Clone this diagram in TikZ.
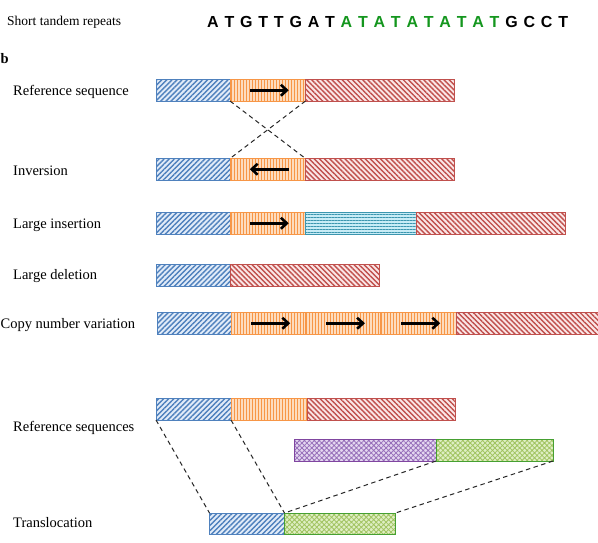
\documentclass[tikz,border=0pt]{standalone}
\usepackage{fontspec}
\setmainfont{Liberation Serif}
\newfontfamily\seqfont{Liberation Sans Bold}
\usetikzlibrary{patterns,patterns.meta,arrows.meta}
\definecolor{cblue}{RGB}{79,129,189}
\definecolor{cblueF}{RGB}{225,235,248}
\definecolor{corange}{RGB}{247,150,70}
\definecolor{corangeF}{RGB}{253,220,190}
\definecolor{cred}{RGB}{192,80,77}
\definecolor{credF}{RGB}{250,230,230}
\definecolor{ccyan}{RGB}{60,150,175}
\definecolor{ccyanF}{RGB}{200,236,246}
\definecolor{cpurple}{RGB}{128,70,160}
\definecolor{cpurpleP}{RGB}{150,110,185}
\definecolor{cpurpleF}{RGB}{228,215,240}
\definecolor{cgreen}{RGB}{70,160,50}
\definecolor{cgreenP}{RGB}{160,195,95}
\definecolor{cgreenF}{RGB}{222,238,195}
\definecolor{seqgreen}{RGB}{20,150,30}
\tikzset{
  seg/.style={draw, line width=0.9pt, inner sep=0pt, outer sep=0pt, anchor=north west, minimum height=21.5pt},
  bseg/.style={seg, draw=cblue, preaction={fill=cblueF}, pattern={Lines[angle=45,distance=3.6pt,line width=1.4pt]}, pattern color=cblue},
  oseg/.style={seg, draw=corange, preaction={fill=corangeF}, pattern={Lines[angle=90,distance=3pt,line width=0.8pt]}, pattern color=corange},
  rseg/.style={seg, draw=cred, preaction={fill=credF}, pattern={Lines[angle=-45,distance=3.6pt,line width=1.4pt]}, pattern color=cred},
  cseg/.style={seg, draw=ccyan, preaction={fill=ccyanF}, pattern={Lines[angle=0,distance=3pt,line width=1pt]}, pattern color=ccyan},
  pseg/.style={seg, draw=cpurple, preaction={fill=cpurpleF}, pattern={Hatch[angle=45,distance=3.5pt,line width=0.8pt]}, pattern color=cpurpleP},
  gseg/.style={seg, draw=cgreen, preaction={fill=cgreenF}, pattern={Hatch[angle=45,distance=3.5pt,line width=0.8pt]}, pattern color=cgreenP},
  lbl/.style={anchor=west, inner sep=0pt, font=\fontsize{14.5}{16}\selectfont},
  arr/.style={line width=2.6pt, -{Straight Barb[length=6pt,width=11pt]}},
  dsh/.style={line width=1pt, dash pattern=on 4.5pt off 3.5pt, black!85}
}
\begin{document}
\begin{tikzpicture}[x=1pt,y=-1pt]
\useasboundingbox (0,0) rectangle (598,542);
% top
\node[lbl, font=\fontsize{13.5}{16}\selectfont] (str) at (7,22) {Short tandem repeats};
\node[anchor=west, inner sep=0pt, font=\seqfont\fontsize{16}{18}\selectfont] (seq) at (207,22)
  {\spaceskip=5.8pt A T G T T G A T \textcolor{seqgreen}{A T A T A T A T A T} G C C T};
\node[anchor=west, inner sep=0pt, font=\bfseries\fontsize{14.5}{16}\selectfont] (b) at (0.5,59) {b};
% labels
\node[lbl] (l1) at (13,91.5) {Reference sequence};
\node[lbl] (l2) at (13,170.5) {Inversion};
\node[lbl] (l3) at (13,225.5) {Large insertion};
\node[lbl] (l4) at (13,276.5) {Large deletion};
\node[lbl] (l5) at (0.5,325.5) {Copy number variation};
\node[lbl] (l6) at (13,427.5) {Reference sequences};
\node[lbl] (l7) at (13,522.5) {Translocation};
% reference sequence
\node[bseg, minimum width=74pt] (r1b) at (156,79.5) {};
\node[oseg, minimum width=75.5pt] (r1o) at (230,79.5) {};
\node[rseg, minimum width=149pt] (r1r) at (305.5,79.5) {};
\draw[arr] ([xshift=-18pt]r1o.center) -- ([xshift=21pt]r1o.center);
% inversion
\node[bseg, minimum width=74pt] (ivb) at (156,158.5) {};
\node[oseg, minimum width=75.5pt] (ivo) at (230,158.5) {};
\node[rseg, minimum width=149pt] (ivr) at (305.5,158.5) {};
\draw[arr] ([xshift=21pt]ivo.center) -- ([xshift=-18pt]ivo.center);
\draw[dsh] (r1o.south west) -- (ivo.north east);
\draw[dsh] (r1o.south east) -- (ivo.north west);
% insertion
\node[bseg, minimum width=74pt] (inb) at (156,212.5) {};
\node[oseg, minimum width=75.5pt] (ino) at (230,212.5) {};
\node[cseg, minimum width=110.5pt] (inc) at (305.5,212.5) {};
\node[rseg, minimum width=149pt] (inr) at (416,212.5) {};
\draw[arr] ([xshift=-18pt]ino.center) -- ([xshift=21pt]ino.center);
% deletion
\node[bseg, minimum width=74.5pt] (dlb) at (156,264.5) {};
\node[rseg, minimum width=148.5pt] (dlr) at (230.5,264.5) {};
% copy number variation
\node[bseg, minimum width=74pt] (cnb) at (157,312.5) {};
\node[oseg, minimum width=74.5pt] (cno1) at (231,312.5) {};
\node[oseg, minimum width=75pt] (cno2) at (305.5,312.5) {};
\node[oseg, minimum width=75.5pt] (cno3) at (380.5,312.5) {};
\node[rseg, minimum width=149pt] (cnr) at (456,312.5) {};
\draw[arr] ([xshift=-17pt]cno1.center) -- ([xshift=22pt]cno1.center);
\draw[arr] ([xshift=-17pt]cno2.center) -- ([xshift=22pt]cno2.center);
\draw[arr] ([xshift=-17pt]cno3.center) -- ([xshift=22pt]cno3.center);
% translocation references
\node[bseg, minimum width=75pt] (tb) at (156,398.5) {};
\node[oseg, minimum width=76pt] (to) at (231,398.5) {};
\node[rseg, minimum width=148.5pt] (tr) at (307,398.5) {};
\node[pseg, minimum width=142pt] (pp) at (294,439.5) {};
\node[gseg, minimum width=117pt] (pg) at (436,439.5) {};
% translocation result
\node[bseg, minimum width=75pt] (bb) at (209.5,513) {};
\node[gseg, minimum width=111pt] (bg) at (284.5,513) {};
\draw[dsh] (tb.south west) -- (bb.north west);
\draw[dsh] (tb.south east) -- (bb.north east);
\draw[dsh] (pg.south west) -- (bg.north west);
\draw[dsh] (pg.south east) -- (bg.north east);
\end{tikzpicture}
\end{document}
